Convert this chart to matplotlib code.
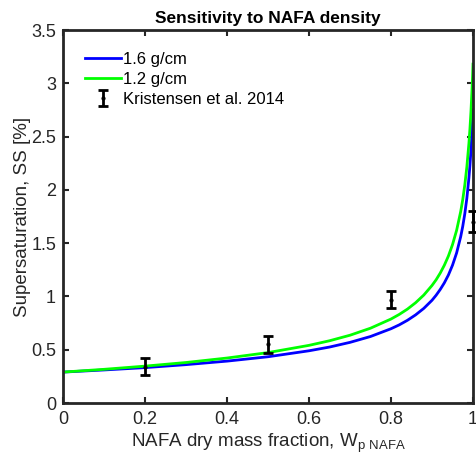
import matplotlib
matplotlib.use('Agg')
import matplotlib.pyplot as plt

plt.rcParams['font.family'] = ['Liberation Sans', 'DejaVu Sans']
plt.rcParams['mathtext.fontset'] = 'custom'
plt.rcParams['mathtext.rm'] = 'Liberation Sans'

# curves
w_frac = [0, 0.1, 0.2, 0.3, 0.4, 0.5, 0.6, 0.65, 0.7, 0.75, 0.8, 0.82, 0.84,
          0.86, 0.88, 0.9, 0.91, 0.92, 0.93, 0.94, 0.95, 0.96, 0.97, 0.975,
          0.98, 0.985, 0.99, 0.9925, 0.995, 0.998, 0.999, 1.0]
ss_16 = [0.290, 0.310, 0.332, 0.360, 0.393, 0.434, 0.490, 0.525, 0.569, 0.624,
         0.697, 0.733, 0.776, 0.827, 0.888, 0.964, 1.011, 1.065, 1.127, 1.201,
         1.293, 1.408, 1.561, 1.658, 1.776, 1.921, 2.111, 2.228, 2.367, 2.577,
         2.66, 2.751]
ss_12 = [0.290, 0.316, 0.346, 0.380, 0.422, 0.473, 0.541, 0.584, 0.636, 0.702,
         0.788, 0.831, 0.881, 0.941, 1.013, 1.103, 1.156, 1.219, 1.292, 1.379,
         1.486, 1.620, 1.797, 1.909, 2.046, 2.215, 2.435, 2.571, 2.733, 2.975,
         3.07, 3.18]

# measurements
obs_x = [0.2, 0.5, 0.8, 1.0]
obs_y = [0.34, 0.55, 0.97, 1.70]
obs_err = [0.08, 0.08, 0.08, 0.10]

fig = plt.figure(figsize=(4.76, 4.59), dpi=100)
ax = fig.add_axes([0.1324, 0.122, 0.8613, 0.8126])

ax.plot(w_frac, ss_16, color=(0, 0, 1), lw=2, label='1.6 g/cm')
ax.plot(w_frac, ss_12, color=(0, 1, 0), lw=2, label='1.2 g/cm')
ax.errorbar(obs_x, obs_y, yerr=obs_err, fmt='.', color='k', ms=4,
            elinewidth=2, capsize=3.5, capthick=2, label='Kristensen et al. 2014',
            clip_on=False, zorder=5)

ax.set_xlim(0, 1)
ax.set_ylim(0, 3.5)
ax.set_xticks([0, 0.2, 0.4, 0.6, 0.8, 1])
ax.set_xticklabels(['0', '0.2', '0.4', '0.6', '0.8', '1'])
ax.set_yticks([0, 0.5, 1, 1.5, 2, 2.5, 3, 3.5])
ax.set_yticklabels(['0', '0.5', '1', '1.5', '2', '2.5', '3', '3.5'])

gray = '#262626'
for s in ax.spines.values():
    s.set_linewidth(2)
    s.set_color(gray)
ax.tick_params(direction='in', top=True, right=True, length=4, width=1.5,
               labelsize=13, colors=gray, labelcolor=gray)
ax.tick_params(axis='x', pad=6)
ax.tick_params(axis='y', pad=5)

ax.set_xlabel(r'NAFA dry mass fraction, W$_{\mathrm{p\ NAFA}}$', fontsize=13.5,
              color=gray, labelpad=2)
ax.set_ylabel('Supersaturation, SS [%]', fontsize=13.5, color=gray, labelpad=0)
ax.set_title('Sensitivity to NAFA density', fontsize=12.5, fontweight='bold', pad=5)

ax.legend(loc='upper left', frameon=False, fontsize=12, handlelength=2.2,
          handletextpad=0.1, labelspacing=0.3, borderaxespad=0.9)

fig.savefig('out.png', dpi=100)
